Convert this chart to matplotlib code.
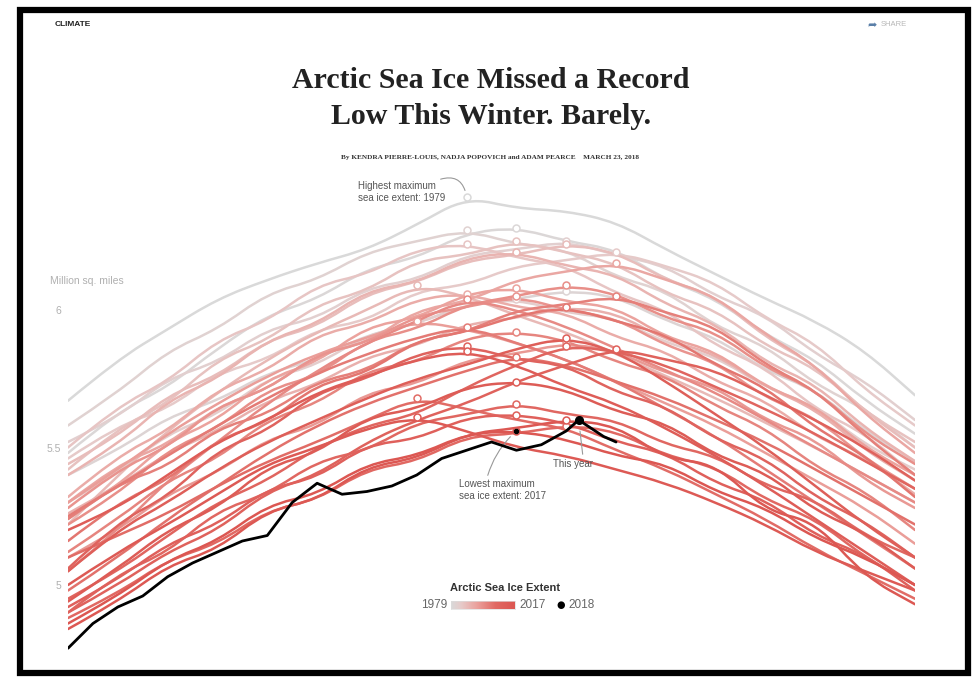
import numpy as np
import matplotlib.pyplot as plt
from matplotlib.colors import LinearSegmentedColormap
from matplotlib.patches import Rectangle, PathPatch
from matplotlib.path import Path

# day offsets of the plotted season (every 4 days)
days = [0, 4, 8, 12, 16, 20, 24, 28, 32, 36, 40, 44, 48, 52, 56, 60, 64, 68]

# sea ice extent, million sq. miles
ice_1979 = [5.67, 5.82, 5.93, 6.04, 6.11, 6.17, 6.22, 6.31, 6.41, 6.37, 6.36, 6.32, 6.22, 6.13, 6.04, 5.96, 5.85, 5.69]
ice_1980 = [5.48, 5.63, 5.72, 5.86, 5.98, 6.04, 6.15, 6.19, 6.28, 6.30, 6.25, 6.22, 6.11, 6.04, 5.91, 5.82, 5.67, 5.55]
ice_1981 = [5.40, 5.49, 5.61, 5.67, 5.77, 5.82, 5.91, 5.95, 6.02, 6.04, 6.07, 6.05, 5.96, 5.90, 5.78, 5.71, 5.56, 5.45]
ice_1982 = [5.58, 5.70, 5.85, 5.93, 6.06, 6.11, 6.21, 6.25, 6.29, 6.24, 6.22, 6.12, 6.07, 5.94, 5.87, 5.73, 5.64, 5.50]
ice_1983 = [5.52, 5.61, 5.75, 5.81, 5.93, 5.97, 6.08, 6.11, 6.20, 6.22, 6.25, 6.20, 6.16, 6.05, 5.98, 5.84, 5.74, 5.60]
ice_1984 = [5.30, 5.41, 5.55, 5.62, 5.75, 5.80, 5.91, 5.95, 6.02, 6.04, 5.99, 5.97, 5.88, 5.83, 5.72, 5.65, 5.51, 5.42]
ice_1985 = [5.46, 5.58, 5.64, 5.77, 5.82, 5.93, 5.96, 6.07, 6.09, 6.16, 6.18, 6.21, 6.16, 6.10, 5.97, 5.88, 5.71, 5.58]
ice_1986 = [5.50, 5.65, 5.74, 5.89, 5.96, 6.09, 6.13, 6.22, 6.24, 6.19, 6.16, 6.06, 6.00, 5.87, 5.79, 5.64, 5.55, 5.40]
ice_1987 = [5.42, 5.57, 5.66, 5.82, 5.89, 6.02, 6.07, 6.18, 6.20, 6.25, 6.21, 6.17, 6.06, 6.00, 5.87, 5.79, 5.63, 5.52]
ice_1988 = [5.44, 5.54, 5.69, 5.76, 5.89, 5.94, 6.06, 6.10, 6.18, 6.20, 6.24, 6.21, 6.11, 6.05, 5.90, 5.80, 5.63, 5.50]
ice_1989 = [5.22, 5.40, 5.56, 5.70, 5.82, 5.92, 6.00, 6.09, 6.05, 5.98, 5.92, 5.84, 5.76, 5.68, 5.59, 5.50, 5.40, 5.30]
ice_1990 = [5.40, 5.51, 5.67, 5.75, 5.89, 5.95, 6.07, 6.10, 6.19, 6.21, 6.16, 6.13, 6.02, 5.95, 5.81, 5.73, 5.57, 5.45]
ice_1991 = [5.26, 5.36, 5.48, 5.56, 5.67, 5.73, 5.83, 5.87, 5.95, 5.97, 6.01, 5.99, 5.89, 5.84, 5.72, 5.64, 5.49, 5.38]
ice_1992 = [5.32, 5.47, 5.56, 5.71, 5.78, 5.91, 5.95, 6.04, 6.06, 6.01, 5.99, 5.90, 5.85, 5.74, 5.67, 5.54, 5.46, 5.33]
ice_1993 = [5.30, 5.44, 5.51, 5.65, 5.71, 5.84, 5.88, 6.00, 6.03, 6.11, 6.14, 6.17, 6.11, 6.05, 5.91, 5.80, 5.62, 5.48]
ice_1994 = [5.24, 5.36, 5.52, 5.60, 5.75, 5.81, 5.94, 5.97, 6.06, 6.08, 6.03, 6.01, 5.90, 5.85, 5.72, 5.65, 5.50, 5.40]
ice_1995 = [5.30, 5.42, 5.55, 5.66, 5.76, 5.84, 5.90, 5.96, 5.93, 5.88, 5.82, 5.74, 5.66, 5.58, 5.48, 5.38, 5.28, 5.15]
ice_1996 = [5.10, 5.20, 5.33, 5.41, 5.53, 5.58, 5.70, 5.73, 5.82, 5.84, 5.88, 5.85, 5.77, 5.72, 5.60, 5.53, 5.38, 5.28]
ice_1997 = [5.28, 5.42, 5.50, 5.65, 5.71, 5.84, 5.88, 5.98, 6.01, 6.05, 6.00, 5.97, 5.87, 5.81, 5.68, 5.61, 5.46, 5.35]
ice_1998 = [5.22, 5.33, 5.49, 5.57, 5.71, 5.76, 5.89, 5.93, 6.02, 6.05, 6.09, 6.06, 5.97, 5.92, 5.79, 5.71, 5.55, 5.44]
ice_1999 = [5.05, 5.20, 5.38, 5.52, 5.66, 5.78, 5.88, 5.96, 6.04, 6.00, 5.94, 5.86, 5.78, 5.70, 5.60, 5.50, 5.40, 5.30]
ice_2000 = [5.12, 5.24, 5.38, 5.46, 5.60, 5.66, 5.78, 5.81, 5.90, 5.92, 5.89, 5.81, 5.76, 5.65, 5.57, 5.43, 5.34, 5.20]
ice_2001 = [5.24, 5.37, 5.43, 5.57, 5.62, 5.74, 5.78, 5.89, 5.92, 6.00, 6.02, 6.05, 5.99, 5.94, 5.80, 5.71, 5.54, 5.40]
ice_2002 = [5.25, 5.36, 5.47, 5.58, 5.68, 5.77, 5.84, 5.90, 5.94, 5.88, 5.82, 5.74, 5.64, 5.54, 5.42, 5.30, 5.18, 5.06]
ice_2003 = [5.16, 5.30, 5.38, 5.53, 5.59, 5.73, 5.77, 5.89, 5.92, 5.98, 6.01, 5.96, 5.91, 5.80, 5.72, 5.57, 5.47, 5.32]
ice_2004 = [4.98, 5.10, 5.24, 5.36, 5.48, 5.58, 5.66, 5.72, 5.78, 5.83, 5.80, 5.74, 5.68, 5.60, 5.52, 5.42, 5.32, 5.22]
ice_2005 = [5.10, 5.18, 5.26, 5.36, 5.45, 5.52, 5.60, 5.68, 5.64, 5.60, 5.57, 5.49, 5.42, 5.33, 5.24, 5.13, 5.04, 4.95]
ice_2006 = [4.88, 4.97, 5.09, 5.15, 5.27, 5.31, 5.42, 5.45, 5.54, 5.55, 5.58, 5.56, 5.47, 5.43, 5.31, 5.24, 5.10, 5.00]
ice_2007 = [4.90, 5.04, 5.12, 5.27, 5.33, 5.45, 5.49, 5.59, 5.62, 5.66, 5.62, 5.60, 5.51, 5.47, 5.36, 5.31, 5.18, 5.10]
ice_2008 = [4.95, 5.05, 5.18, 5.30, 5.38, 5.50, 5.58, 5.62, 5.72, 5.80, 5.87, 5.85, 5.80, 5.72, 5.64, 5.55, 5.45, 5.35]
ice_2009 = [5.06, 5.23, 5.32, 5.49, 5.56, 5.70, 5.75, 5.84, 5.87, 5.82, 5.80, 5.70, 5.65, 5.53, 5.46, 5.32, 5.23, 5.10]
ice_2010 = [4.90, 5.00, 5.12, 5.20, 5.34, 5.40, 5.52, 5.60, 5.66, 5.74, 5.80, 5.86, 5.82, 5.78, 5.69, 5.60, 5.50, 5.38]
ice_2011 = [4.92, 5.02, 5.15, 5.22, 5.35, 5.39, 5.51, 5.53, 5.61, 5.62, 5.59, 5.52, 5.48, 5.37, 5.31, 5.18, 5.11, 4.98]
ice_2012 = [5.05, 5.20, 5.30, 5.42, 5.52, 5.60, 5.68, 5.75, 5.80, 5.86, 5.90, 5.85, 5.74, 5.62, 5.50, 5.36, 5.22, 5.10]
ice_2013 = [5.20, 5.28, 5.40, 5.52, 5.60, 5.70, 5.76, 5.82, 5.85, 5.80, 5.72, 5.66, 5.57, 5.47, 5.36, 5.24, 5.12, 5.00]
ice_2014 = [4.94, 5.06, 5.20, 5.28, 5.43, 5.48, 5.61, 5.64, 5.72, 5.74, 5.71, 5.63, 5.59, 5.47, 5.41, 5.27, 5.19, 5.06]
ice_2015 = [5.00, 5.12, 5.22, 5.33, 5.44, 5.50, 5.57, 5.61, 5.56, 5.50, 5.47, 5.42, 5.37, 5.30, 5.22, 5.12, 5.05, 4.98]
ice_2016 = [4.84, 4.94, 5.07, 5.13, 5.27, 5.31, 5.43, 5.46, 5.55, 5.57, 5.60, 5.58, 5.46, 5.44, 5.27, 5.23, 5.03, 4.93]
ice_2017 = [4.86, 4.96, 5.09, 5.16, 5.29, 5.33, 5.44, 5.47, 5.55, 5.56, 5.53, 5.47, 5.44, 5.34, 5.28, 5.17, 5.10, 5.00]

# this year, so far
days_2018 = [0, 2, 4, 6, 8, 10, 12, 14, 16, 18, 20, 22, 24, 26, 28, 30, 32, 34, 36, 38, 40, 41, 43, 44]
ice_2018 = [4.77, 4.86, 4.92, 4.96, 5.03, 5.08, 5.12, 5.16, 5.18, 5.30, 5.37, 5.33, 5.34, 5.36, 5.40,
            5.46, 5.49, 5.52, 5.49, 5.51, 5.56, 5.60, 5.54, 5.52]

years = list(range(1979, 2018))
series = [ice_1979, ice_1980, ice_1981, ice_1982, ice_1983, ice_1984, ice_1985, ice_1986,
          ice_1987, ice_1988, ice_1989, ice_1990, ice_1991, ice_1992, ice_1993, ice_1994,
          ice_1995, ice_1996, ice_1997, ice_1998, ice_1999, ice_2000, ice_2001, ice_2002,
          ice_2003, ice_2004, ice_2005, ice_2006, ice_2007, ice_2008, ice_2009, ice_2010,
          ice_2011, ice_2012, ice_2013, ice_2014, ice_2015, ice_2016, ice_2017]

W, H = 975, 678


def fx(x):
    return x / W


def fy(y):
    return 1 - y / H


def smooth_path(x, y):
    # quadratic bezier through the midpoints, so the lines bend softly
    pts = np.column_stack([x, y])
    verts = [pts[0]]
    codes = [Path.MOVETO]
    for i in range(1, len(pts) - 1):
        verts += [pts[i], (pts[i] + pts[i + 1]) / 2]
        codes += [Path.CURVE3, Path.CURVE3]
    verts.append(pts[-1])
    codes.append(Path.LINETO)
    return Path(verts, codes)


cmap = LinearSegmentedColormap.from_list('ice', [(0, '#d9d9d9'), (0.15, '#e6cbca'), (0.4, '#eba29d'),
                                                 (0.7, '#e16963'), (1, '#dc5752')])

fig = plt.figure(figsize=(W / 100, H / 100), dpi=100)
fig.patch.set_facecolor('white')

# page frame
fig.patches.append(Rectangle((fx(20), fy(673)), fx(948), 663 / H, transform=fig.transFigure,
                             fill=False, edgecolor='black', linewidth=4.5))

# plot area: 6 -> y=310px, 5 -> y=585px, day 0 -> x=68px, day 68 -> x=915px
ax = fig.add_axes([fx(68), fy(667.5), fx(847), 495 / H])
ax.set_xlim(0, 68)
ax.set_ylim(4.7, 6.5)
for s in ax.spines.values():
    s.set_visible(False)
ax.set_xticks([])
ax.set_yticks([5, 5.5, 6])
ax.set_yticklabels(['5', '5.5', '6'])
ax.tick_params(axis='y', length=0, pad=5, labelcolor='#b0b0b0', labelsize=7.5)
for lab in ax.get_yticklabels():
    lab.set_family('Liberation Sans')
ax.patch.set_alpha(0)

n = len(series)
for i, (yr, vals) in enumerate(zip(years, series)):
    c = cmap(i / (n - 1))
    ax.add_patch(PathPatch(smooth_path(days, vals), fill=False, edgecolor=c, lw=1.8,
                           capstyle='round', joinstyle='round', zorder=2 + i * 0.01))
for i, (yr, vals) in enumerate(zip(years, series)):
    c = cmap(i / (n - 1))
    k = int(np.argmax(vals))
    ax.plot(days[k], vals[k], 'o', ms=5, mfc='white', mec=c, mew=1.1, zorder=3)

ax.plot(days_2018, ice_2018, color='black', lw=2.0, zorder=5, solid_capstyle='round',
        solid_joinstyle='round')
k18 = int(np.argmax(ice_2018))
ax.plot(days_2018[k18], ice_2018[k18], 'o', ms=5.5, color='black', zorder=6)
k17 = int(np.argmax(ice_2017))
ax.plot(days[k17], ice_2017[k17], 'o', ms=3, color='black', zorder=6)

note = dict(fontsize=7, color='#555555', family='Liberation Sans', linespacing=1.3)
lead = dict(arrowstyle='-', color='#999999', lw=0.8)

# annotations
k79 = int(np.argmax(ice_1979))
fig.text(fx(358), fy(181), 'Highest maximum\nsea ice extent: 1979', va='top', ha='left', **note)
ax.annotate('', xy=(days[k79], ice_1979[k79]), xytext=(fx(438), fy(180)),
            textcoords='figure fraction',
            arrowprops=dict(connectionstyle='arc3,rad=-0.6', shrinkB=5, **lead))
fig.text(fx(459), fy(479), 'Lowest maximum\nsea ice extent: 2017', va='top', ha='left', **note)
ax.annotate('', xy=(days[k17], ice_2017[k17]), xytext=(fx(487), fy(478)),
            textcoords='figure fraction',
            arrowprops=dict(connectionstyle='arc3,rad=-0.15', shrinkB=6, **lead))
fig.text(fx(553), fy(464), 'This year', va='center', ha='left', **note)
ax.annotate('', xy=(days_2018[k18], ice_2018[k18]), xytext=(fx(583), fy(457)),
            textcoords='figure fraction',
            arrowprops=dict(connectionstyle='arc3,rad=0', shrinkB=8, **lead))

fig.text(fx(50), fy(281), 'Million sq. miles', ha='left', va='center', fontsize=7.5,
         color='#b0b0b0', family='Liberation Sans')

# header
fig.text(fx(55), fy(25), 'CLIMATE', ha='left', va='center', fontsize=6, weight='bold',
         color='#222222', family='Liberation Sans')
fig.text(fx(872), fy(25), '\u27a6', ha='center', va='center', fontsize=8, color='#5a7fa8',
         family='DejaVu Sans')
fig.text(fx(881), fy(25), 'SHARE', ha='left', va='center', fontsize=5.5, color='#b8b8b8',
         family='Liberation Sans')

fig.text(fx(491), fy(80), 'Arctic Sea Ice Missed a Record', ha='center', va='center',
         fontsize=21.5, weight='bold', color='#222222', family='Liberation Serif')
fig.text(fx(491), fy(117), 'Low This Winter. Barely.', ha='center', va='center',
         fontsize=21.5, weight='bold', color='#222222', family='Liberation Serif')
fig.text(fx(490), fy(158), 'By KENDRA PIERRE-LOUIS, NADJA POPOVICH and ADAM PEARCE    MARCH 23, 2018',
         ha='center', va='center', fontsize=5.2, weight='bold', color='#333333',
         family='Liberation Serif')

# legend
fig.text(fx(505), fy(588), 'Arctic Sea Ice Extent', ha='center', va='center', fontsize=8,
         weight='bold', color='#333333', family='Liberation Sans')
fig.text(fx(447), fy(605), '1979', ha='right', va='center', fontsize=8.5, color='#666666',
         family='Liberation Sans')
cax = fig.add_axes([fx(451), fy(609), fx(64), 8 / H])
cax.imshow(np.linspace(0, 1, 100)[None, :], aspect='auto', cmap=cmap)
cax.set_xticks([])
cax.set_yticks([])
for s in cax.spines.values():
    s.set_edgecolor('#dddddd')
    s.set_linewidth(0.5)
fig.text(fx(519), fy(605), '2017', ha='left', va='center', fontsize=8.5, color='#666666',
         family='Liberation Sans')
fig.text(fx(561), fy(605), '\u25cf', ha='center', va='center', fontsize=7, color='black',
         family='DejaVu Sans')
fig.text(fx(568), fy(605), '2018', ha='left', va='center', fontsize=8.5, color='#666666',
         family='Liberation Sans')

fig.savefig('out.png', dpi=100)
